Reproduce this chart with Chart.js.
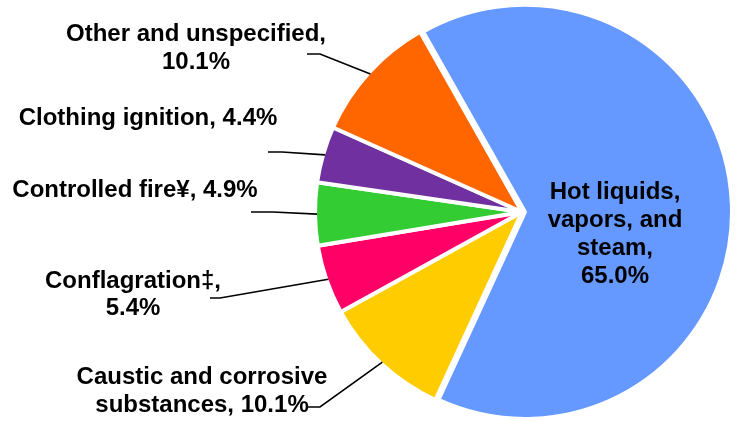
<!DOCTYPE html>
<html>
<head>
<meta charset="utf-8">
<script src="https://cdn.jsdelivr.net/npm/chart.js@4.4.1/dist/chart.umd.min.js"></script>
<style>
  html, body { margin: 0; padding: 0; background: #fff; }
  #wrap { width: 739px; height: 421px; position: relative; }
</style>
</head>
<body>
<div id="wrap"><canvas id="burnChart"></canvas></div>
<script>
// burn injury causes, percent of total
var causes = ['Hot liquids, vapors, and steam', 'Caustic and corrosive substances', 'Conflagration‡',
              'Controlled fire¥', 'Clothing ignition', 'Other and unspecified'];
var shares = [65.0, 10.1, 5.4, 4.9, 4.4, 10.1];
var colors = ['#6699FF', '#FFCC00', '#FF0066', '#33CC33', '#7030A0', '#FF6600'];

// how each label is broken into lines ('%' = the value) and where it sits
var labelSpots = [
    { lines: ['Hot liquids,', 'vapors, and', 'steam,', '%'], x: 615, y: 199, lh: 28 },
    { lines: ['Caustic and corrosive', 'substances, %'], x: 202, y: 384, lh: 28, elbow: [320, 407], end: [308, 407] },
    { lines: ['Conflagration‡,', '%'], x: 133, y: 288, lh: 27, elbow: [220, 298], end: [210, 298] },
    { lines: ['Controlled fire¥, %'], x: 135, y: 197, lh: 28, elbow: [273, 212], end: [251, 212] },
    { lines: ['Clothing ignition, %'], x: 148, y: 125, lh: 28, elbow: [282, 152], end: [268, 152] },
    { lines: ['Other and unspecified,', '%'], x: 196, y: 41, lh: 28, elbow: [320, 54], end: [307, 54] }
];
// the big slice is pulled out a little
var pull = [3, 0, 0, 0, 0, 0];

var pulledSlices = {
    id: 'pulledSlices',
    beforeDatasetDraw: function(chart, args) {
        var ctx = chart.ctx;
        args.meta.data.forEach(function(arc, i) {
            var mid = (arc.startAngle + arc.endAngle) / 2;
            ctx.save();
            ctx.translate(Math.cos(mid) * pull[i], Math.sin(mid) * pull[i]);
            arc.draw(ctx, chart.chartArea);
            ctx.restore();
        });
        return false;
    }
};

var leaderLabels = {
    id: 'leaderLabels',
    afterDatasetsDraw: function(chart) {
        var ctx = chart.ctx;
        var arcs = chart.getDatasetMeta(0).data;
        ctx.save();
        ctx.font = 'bold 24px "Liberation Sans", Arial, sans-serif';
        ctx.fillStyle = '#000';
        ctx.strokeStyle = '#000';
        ctx.lineWidth = 1.6;
        ctx.textAlign = 'center';
        arcs.forEach(function(arc, i) {
            var spot = labelSpots[i];
            var value = shares[i].toFixed(1) + '%';
            if (spot.elbow) {
                var mid = (arc.startAngle + arc.endAngle) / 2;
                var r = arc.outerRadius - 2;
                ctx.beginPath();
                ctx.moveTo(arc.x + Math.cos(mid) * r, arc.y + Math.sin(mid) * r);
                ctx.lineTo(spot.elbow[0], spot.elbow[1]);
                ctx.lineTo(spot.end[0], spot.end[1]);
                ctx.stroke();
            }
            spot.lines.forEach(function(line, k) {
                ctx.fillText(line.replace('%', value), spot.x, spot.y + k * spot.lh);
            });
        });
        ctx.restore();
    }
};

window.onload = function(){
    var ctx = document.getElementById('burnChart').getContext('2d');
    window.burnChart = new Chart(ctx, {
        type: 'pie',
        data: {
            labels: causes,
            datasets: [{
                data: shares,
                backgroundColor: colors,
                borderColor: '#FFFFFF',
                borderWidth: 4,
                radius: 207
            }]
        },
        options: {
            responsive: true,
            maintainAspectRatio: false,
            animation: false,
            rotation: -29.5,
            layout: {
                padding: { left: 305, top: 3, right: 0, bottom: 0 }
            },
            plugins: {
                legend: { display: false },
                tooltip: { enabled: false }
            }
        },
        plugins: [pulledSlices, leaderLabels]
    });
}
</script>
</body>
</html>
